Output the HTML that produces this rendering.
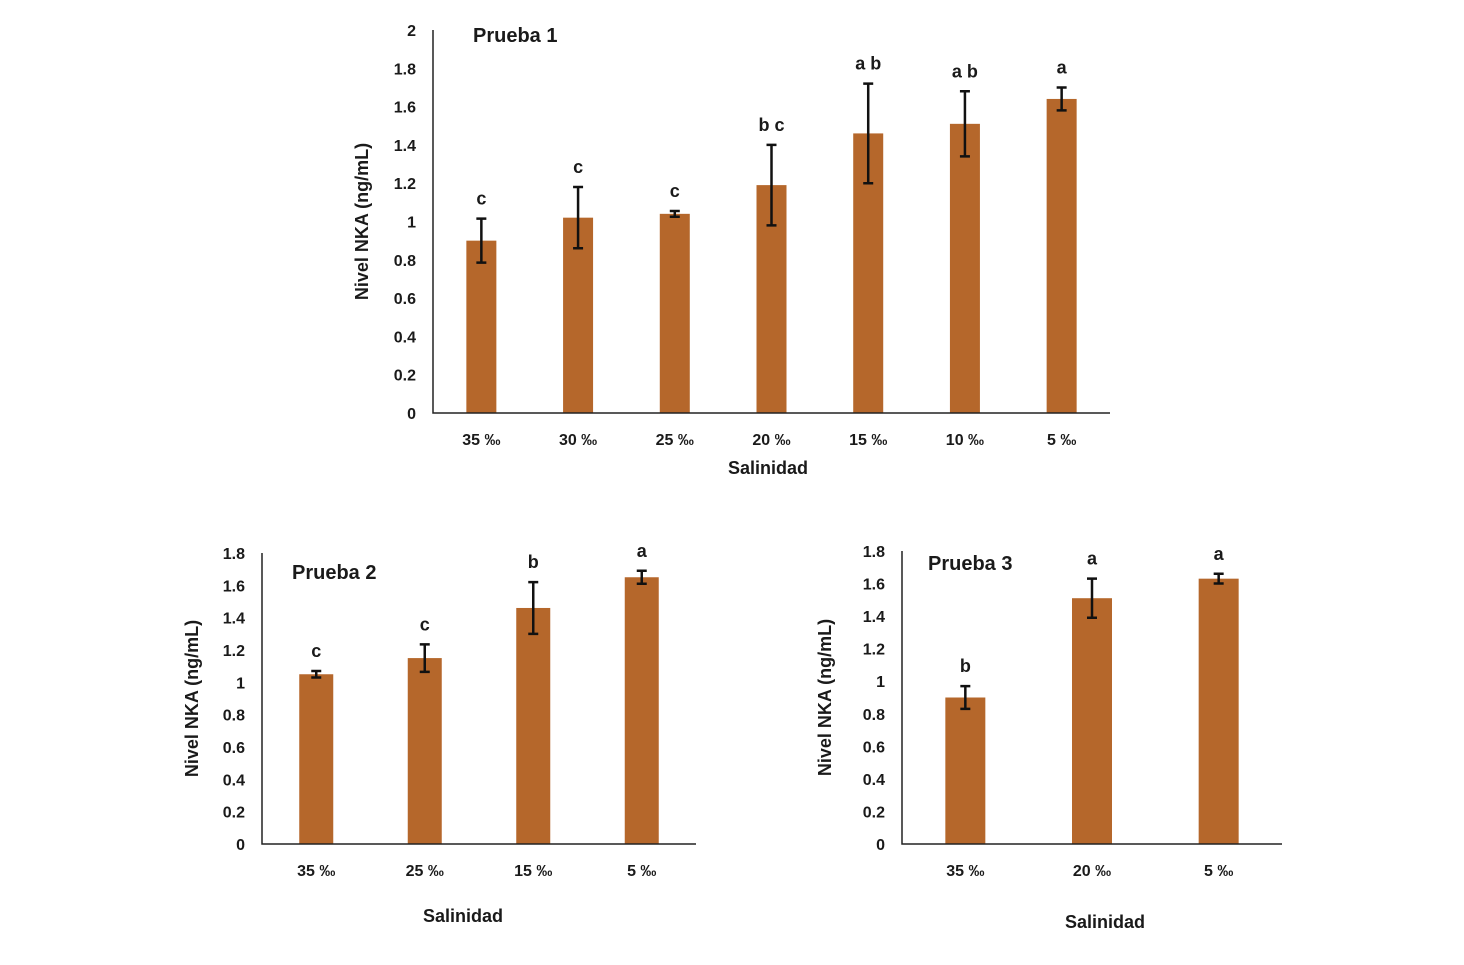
<!DOCTYPE html>
<html><head><meta charset="utf-8"><style>
body{margin:0;background:#fff;font-family:"Liberation Sans",sans-serif}
svg text{font-family:"Liberation Sans",sans-serif;font-weight:bold;fill:#1a1a1a}
</style></head><body>
<svg id="s" width="1464" height="960" xmlns="http://www.w3.org/2000/svg"></svg>
<script>
const cats1=["35 ‰","30 ‰","25 ‰","20 ‰","15 ‰","10 ‰","5 ‰"];
const vals1=[0.90,1.02,1.04,1.19,1.46,1.51,1.64];
const errs1=[0.115,0.16,0.015,0.21,0.26,0.17,0.06];
const lets1=["c","c","c","b c","a b","a b","a"];
const ticks1=[0,0.2,0.4,0.6,0.8,1,1.2,1.4,1.6,1.8,2];
const cats2=["35 ‰","25 ‰","15 ‰","5 ‰"];
const vals2=[1.05,1.15,1.46,1.65];
const errs2=[0.02,0.085,0.16,0.04];
const lets2=["c","c","b","a"];
const cats3=["35 ‰","20 ‰","5 ‰"];
const vals3=[0.90,1.51,1.63];
const errs3=[0.07,0.12,0.03];
const lets3=["b","a","a"];
const ticks23=[0,0.2,0.4,0.6,0.8,1,1.2,1.4,1.6,1.8];
const svg=document.getElementById('s');
const NS="http://www.w3.org/2000/svg";
function mk(tag,a,parent){const e=document.createElementNS(NS,tag);for(const k in a)e.setAttribute(k,a[k]);(parent||svg).appendChild(e);return e;}
function chart(o){
 const g=mk('g',{});
 
 
 const y=v=>o.y0-(v/o.ymax)*(o.y0-o.y1);
 const step=(o.xEnd-o.x0)/o.cats.length;
 const x=i=>o.x0+step*(i+0.5);
 o.ticks.forEach(t=>{const e=mk('text',{x:o.x0-17,y:y(t)+6,'text-anchor':'end','font-size':16},g);e.textContent=String(t);
  });
 o.vals.forEach((v,i)=>{
  const r=mk('rect',{x:x(i)-o.bw/2,y:y(v),width:o.bw,height:o.y0-y(v),fill:'#b5672b'},g);
  
  const hi=y(v+o.errs[i]),lo=y(v-o.errs[i]);
  const eb=mk('path',{d:`M${x(i)},${hi}V${lo}M${x(i)-5},${hi}H${x(i)+5}M${x(i)-5},${lo}H${x(i)+5}`,stroke:'#111','stroke-width':2.5,fill:'none'},g);
  
  const l=mk('text',{x:x(i),y:hi-14,'text-anchor':'middle','font-size':18},g);l.textContent=o.lets[i];
  
  const c=mk('text',{x:x(i),y:o.y0+32,'text-anchor':'middle','font-size':16,'font-weight':'normal'},g);c.textContent=o.cats[i];
  
 });
 const ax=mk('path',{d:`M${o.x0},${o.y1}V${o.y0}H${o.xEnd}`,stroke:'#222','stroke-width':1.5,fill:'none'},g);
 
 const t=mk('text',{x:o.tx,y:o.ty,'font-size':20},g);t.textContent=o.title;
 
 const xt=mk('text',{x:o.xtx,y:o.xty,'text-anchor':'middle','font-size':18},g);xt.textContent='Salinidad';
 
 const yt=mk('text',{x:0,y:0,'text-anchor':'middle','font-size':18,transform:`translate(${o.ytx},${(o.y0+o.y1)/2}) rotate(-90)`},g);yt.textContent='Nivel NKA (ng/mL)';
 
}
chart({name:'chart-prueba-1',cats:cats1,vals:vals1,errs:errs1,lets:lets1,ticks:ticks1,ymax:2,x0:433,xEnd:1110,y0:413,y1:30,bw:30,title:'Prueba 1',tx:473,ty:42,xtx:768,xty:474,ytx:368});
chart({name:'chart-prueba-2',cats:cats2,vals:vals2,errs:errs2,lets:lets2,ticks:ticks23,ymax:1.8,x0:262,xEnd:696,y0:844,y1:553,bw:34,title:'Prueba 2',tx:292,ty:579,xtx:463,xty:922,ytx:198});
chart({name:'chart-prueba-3',cats:cats3,vals:vals3,errs:errs3,lets:lets3,ticks:ticks23,ymax:1.8,x0:902,xEnd:1282,y0:844,y1:551,bw:40,title:'Prueba 3',tx:928,ty:570,xtx:1105,xty:928,ytx:831});
</script>
</body></html>
